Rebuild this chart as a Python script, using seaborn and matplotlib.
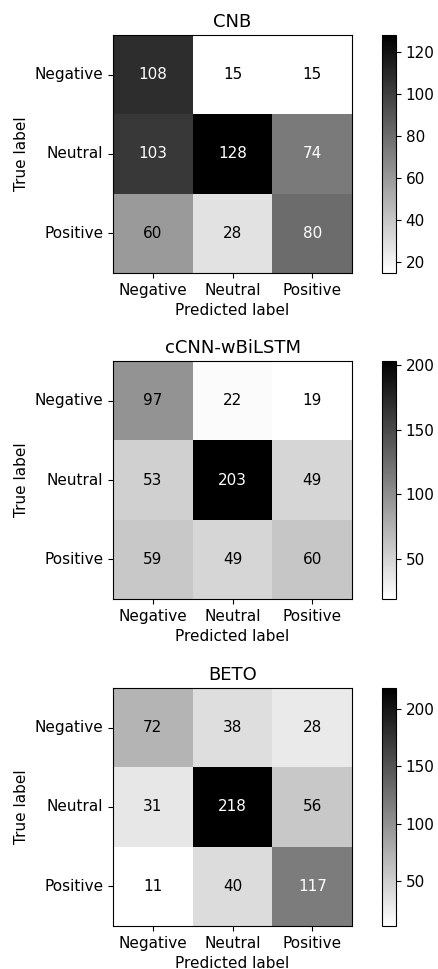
import matplotlib
matplotlib.use("Agg")
from matplotlib import pyplot as plt
from matplotlib.ticker import MultipleLocator
import numpy as np
import pandas as pd
import seaborn as sns

labels = ["Negative", "Neutral", "Positive"]
models = ["CNB", "cCNN-wBiLSTM", "BETO"]

cnb = [[108, 15, 15],
       [103, 128, 74],
       [60, 28, 80]]
ccnn = [[97, 22, 19],
        [53, 203, 49],
        [59, 49, 60]]
beto = [[72, 38, 28],
        [31, 218, 56],
        [11, 40, 117]]

matrices = [cnb, ccnn, beto]
cbar_steps = [20, 50, 50]

fig = plt.figure(figsize=(4.38, 9.69), dpi=100)

# axes positions in figure fractions (left, bottom, width, height)
bottoms = [0.7183, 0.3818, 0.0444]

for name, cm, step, bottom in zip(models, matrices, cbar_steps, bottoms):
    ax = fig.add_axes([0.258, bottom, 0.546, 0.2456])
    cax = fig.add_axes([0.872, bottom, 0.032, 0.2456])
    df = pd.DataFrame(cm, index=labels, columns=labels)
    sns.heatmap(df, ax=ax, cbar_ax=cax, cmap="gray_r", annot=True, fmt="d",
                annot_kws={"fontsize": 11})

    # text color like sklearn: white above the mid value
    vals = np.array(cm)
    thresh = (vals.max() + vals.min()) / 2.0
    for txt in ax.texts:
        v = int(txt.get_text())
        txt.set_color("white" if v > thresh else "black")

    for s in ax.spines.values():
        s.set_visible(True)
        s.set_linewidth(0.8)
        s.set_color("black")
    ax.tick_params(axis="both", length=3.5, width=0.8, labelsize=11)
    ax.set_yticklabels(labels, rotation=0, va="center")
    ax.set_xticklabels(labels, rotation=0)
    ax.set_title(name, fontsize=13)
    ax.set_xlabel("Predicted label", fontsize=11)
    ax.set_ylabel("True label", fontsize=11)

    cbar = ax.collections[0].colorbar
    cbar.ax.yaxis.set_major_locator(MultipleLocator(step))
    cbar.ax.tick_params(labelsize=11, length=3.5, width=0.8)
    cbar.outline.set_linewidth(0.8)
    cbar.outline.set_edgecolor("black")

plt.savefig("out.png", dpi=100)
